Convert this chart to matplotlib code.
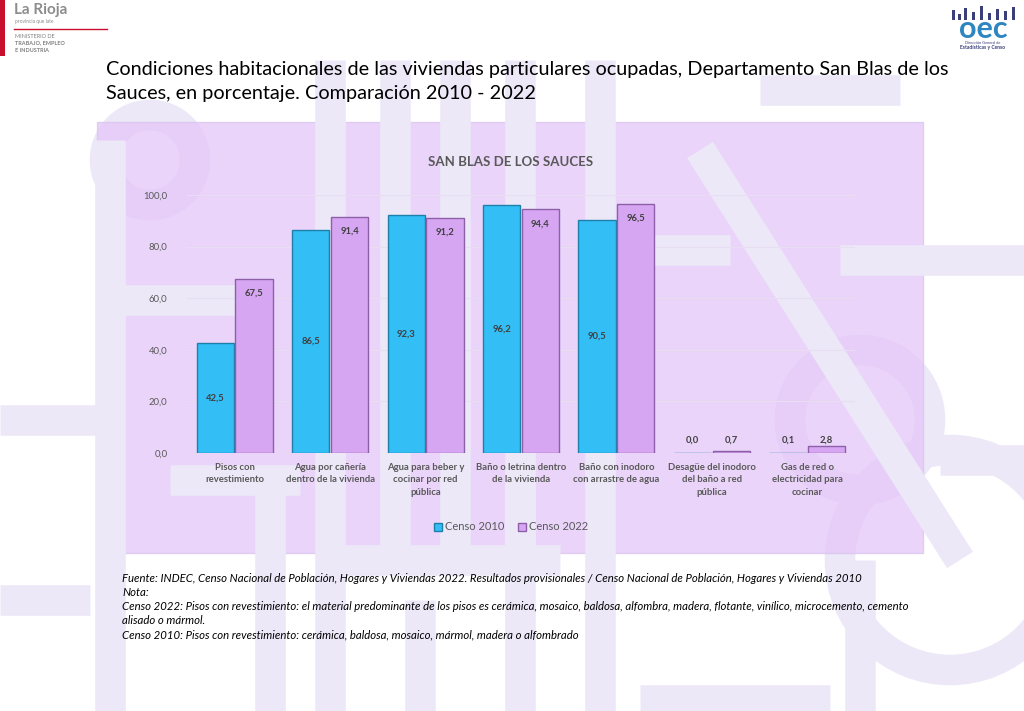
import matplotlib
matplotlib.use('Agg')
import matplotlib.pyplot as plt
from matplotlib.patches import Rectangle, Circle
from matplotlib.lines import Line2D
import numpy as np

plt.rcParams['font.family'] = ['Lato', 'DejaVu Sans']

# ── Data ──
categories = [
    'Pisos con\nrevestimiento',
    'Agua por cañería\ndentro de la vivienda',
    'Agua para beber y\ncocinar por red\npública',
    'Baño o letrina dentro\nde la vivienda',
    'Baño con inodoro\ncon arrastre de agua',
    'Desagüe del inodoro\ndel baño a red\npública',
    'Gas de red o\nelectricidad para\ncocinar',
]
censo_2010 = [42.5, 86.5, 92.3, 96.2, 90.5, 0.0, 0.1]
censo_2022 = [67.5, 91.4, 91.2, 94.4, 96.5, 0.7, 2.8]
y_ticks = [0, 20, 40, 60, 80, 100]

title = ('Condiciones habitacionales de las viviendas particulares ocupadas, Departamento San Blas de los\n'
         'Sauces, en porcentaje. Comparación 2010 - 2022')
chart_title = 'SAN BLAS DE LOS SAUCES'
notes = [
    'Fuente: INDEC, Censo Nacional de Población, Hogares y Viviendas 2022. Resultados provisionales / Censo Nacional de Población, Hogares y Viviendas 2010',
    'Nota:',
    'Censo 2022: Pisos con revestimiento: el material predominante de los pisos es cerámica, mosaico, baldosa, alfombra, madera, flotante, vinílico, microcemento, cemento',
    'alisado o mármol.',
    'Censo 2010: Pisos con revestimiento: cerámica, baldosa, mosaico, mármol, madera o alfombrado',
]

c2010 = '#33BEF6'
c2022 = '#D7A6F3'
text_grey = '#595959'
wm = '#ECE8F8'


def fmt(v):
    return f'{v:.1f}'.replace('.', ',')


fig = plt.figure(figsize=(10.24, 7.11), dpi=100)
fig.patch.set_facecolor('white')

# ── Background watermark (faint shapes) ──
bg = fig.add_axes([0, 0, 1, 1], zorder=0)
bg.set_xlim(0, 1024)
bg.set_ylim(711, 0)
bg.axis('off')
lw = 22
for (x0, y0, x1, y1) in [
    (110, 140, 110, 711), (110, 300, 260, 300), (330, 60, 330, 711),
    (395, 60, 395, 560), (455, 60, 455, 560), (520, 60, 520, 560),
    (330, 560, 560, 560), (600, 60, 600, 711), (600, 250, 730, 250),
    (640, 700, 830, 700), (170, 480, 300, 480), (0, 600, 90, 600),
    (760, 90, 900, 90), (840, 260, 1024, 260), (700, 150, 960, 560),
    (940, 460, 1024, 460), (270, 470, 270, 711), (0, 420, 100, 420),
    (520, 470, 520, 711), (420, 600, 420, 711), (860, 560, 860, 711),
]:
    bg.add_line(Line2D([x0, x1], [y0, y1], color=wm, lw=lw, solid_capstyle='butt'))
bg.add_patch(Circle((150, 160), 45, fill=False, ec=wm, lw=lw))
bg.add_patch(Circle((950, 560), 110, fill=False, ec=wm, lw=lw))
bg.add_patch(Circle((860, 420), 70, fill=False, ec=wm, lw=lw))

# chart box
bg.add_patch(Rectangle((97, 122), 826, 431, fc='#E4C6F8', ec='#D9C4EE', lw=1, alpha=0.75))

# ── Logos ──
bg.add_patch(Rectangle((0, 0), 5, 56, fc='#C8102E', ec='none'))
bg.text(14, 10, 'La Rioja', fontsize=11, fontweight='bold', color='#8C8C8C', va='center')
bg.text(15, 21, 'provincia que late', fontsize=3.5, color='#8C8C8C', va='center')
bg.add_line(Line2D([14, 107], [29, 29], color='#C8102E', lw=1))
bg.text(15, 36, 'MINISTERIO DE', fontsize=4, color='#7F7F7F', va='center')
bg.text(15, 43, 'TRABAJO, EMPLEO', fontsize=4, color='#7F7F7F', va='center', fontweight='bold')
bg.text(15, 50, 'E INDUSTRIA', fontsize=4, color='#7F7F7F', va='center', fontweight='bold')

for bx, bh in [(952, 10), (958, 6), (964, 12), (972, 8), (980, 14), (988, 7), (996, 11), (1004, 9), (1012, 13)]:
    bg.add_patch(Rectangle((bx, 20 - bh), 3, bh, fc='#3A3F7A', ec='none'))
bg.text(983, 29, 'oec', fontsize=22, fontweight='bold', color='#2E86C1', ha='center', va='center')
bg.text(983, 43, 'Dirección General de', fontsize=2.8, color='#3A3F7A', ha='center', va='center')
bg.text(983, 48, 'Estadísticas y Censo', fontsize=3.6, color='#3A3F7A', ha='center', va='center',
        fontweight='bold')

# ── Titles and notes ──
fig.text(106 / 1024, 1 - 61 / 711, title, fontsize=14.3, color='black', va='top',
         ha='left', linespacing=1.5)
fig.text(511 / 1024, 1 - 162 / 711, chart_title, fontsize=9.5, fontweight='bold',
         color=text_grey, ha='center', va='center')
for k, line in enumerate(notes):
    fig.text(122 / 1024, 1 - (578 + 14.3 * k) / 711, line, fontsize=8.2,
             style='italic', color='black', va='center', ha='left')

# ── Chart ──
ax = fig.add_axes([187 / 1024, 1 - 453 / 711, 668 / 1024, 258 / 711], zorder=2)
ax.patch.set_alpha(0)
x = np.arange(len(categories))
w = 0.39
ax.bar(x - 0.203, censo_2010, w, color=c2010, edgecolor='#1E7FA8', linewidth=1.0,
       label='Censo 2010', zorder=3)
ax.bar(x + 0.203, censo_2022, w, color=c2022, edgecolor='#8C5FA8', linewidth=1.0,
       label='Censo 2022', zorder=3)

for xi, v in zip(x - 0.203, censo_2010):
    y = v / 2 if v > 10 else 5
    ax.text(xi, y, fmt(v), ha='center', va='center', fontsize=6.8, fontweight='bold',
            color='#404040', zorder=4)
for xi, v in zip(x + 0.203, censo_2022):
    y = v - 5.5 if v > 10 else 5
    ax.text(xi, y, fmt(v), ha='center', va='center', fontsize=6.8, fontweight='bold',
            color='#404040', zorder=4)

ax.set_xlim(-0.5, len(categories) - 0.5)
ax.set_ylim(0, 100)
ax.set_yticks(y_ticks)
ax.set_yticklabels([fmt(t) for t in y_ticks], fontsize=6.8, color=text_grey)
ax.set_xticks(x)
ax.set_xticklabels(categories, fontsize=6.8, color=text_grey, fontweight='bold',
                   linespacing=1.5, va='top')
ax.tick_params(axis='both', length=0, pad=7)
ax.tick_params(axis='y', pad=14)
ax.grid(axis='y', color='#E8DDF2', lw=0.8, zorder=1)
for s in ax.spines.values():
    s.set_visible(False)

ax.legend(loc='center', bbox_to_anchor=(511 / 1024, 1 - 527 / 711), bbox_transform=fig.transFigure,
          ncol=2, frameon=False, fontsize=8, handlelength=0.7, handleheight=0.7,
          columnspacing=1.2, handletextpad=0.3, labelcolor=text_grey)

fig.savefig('out.png', dpi=100)
